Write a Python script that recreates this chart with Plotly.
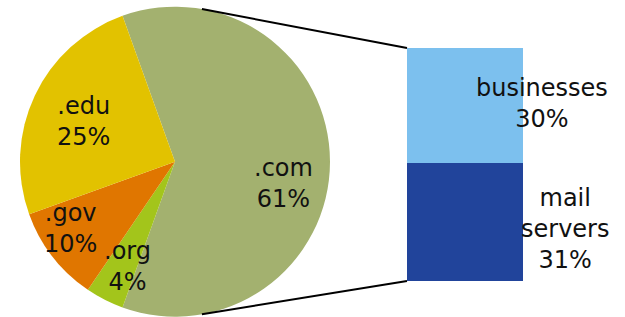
import math
import plotly.graph_objects as go

# ---- data ----
pie_labels = [".com", ".org", ".gov", ".edu"]
pie_values = [61, 4, 10, 25]
pie_colors = ["#A3B16F", "#A3C51B", "#E07600", "#E2C200"]

bar_labels = ["mail servers", "businesses"]
bar_values = [31, 30]
bar_colors = ["#21449B", "#7CC0EE"]
bar_category = ["other"]

W, H = 625, 317
FONT = "DejaVu Sans"
FS = 24

# ---- layout geometry ----
pie_dom_x = [0.032, 0.528]
pie_dom_y = [0.0, 0.98]
bar_dom_x = [407 / W, 523 / W]
bar_dom_y = [(H - 281) / H, (H - 48) / H]

total = sum(pie_values)
rot = 90 - pie_values[0] / total * 360 / 2  # center .com on the right side

fig = go.Figure()
fig.add_trace(go.Pie(
    labels=pie_labels, values=pie_values, sort=False, direction="clockwise",
    rotation=rot, marker=dict(colors=pie_colors, line=dict(width=0)),
    textinfo="none", hoverinfo="label+percent", showlegend=False,
    domain=dict(x=pie_dom_x, y=pie_dom_y),
))

for lab, val, col in zip(bar_labels, bar_values, bar_colors):
    fig.add_trace(go.Bar(
        x=bar_category, y=[val], name=lab, marker=dict(color=col, line=dict(width=0)),
        showlegend=False, xaxis="x", yaxis="y",
    ))

# ---- pie labels ----
pie_label_pos = {".com": (283, 183), ".edu": (83, 121), ".gov": (70, 228), ".org": (127, 266)}
ann = []
for lab, val in zip(pie_labels, pie_values):
    px, py = pie_label_pos[lab]
    ann.append(dict(text=f"{lab}<br>{round(val / total * 100)}%", x=px / W, y=1 - py / H,
                    xref="paper", yref="paper", showarrow=False, xanchor="center", yanchor="middle",
                    font=dict(family=FONT, size=FS, color="#111111")))

# ---- bar labels ----
bar_label_dx = {"mail servers": 100, "businesses": 77}
bar_label_dy = {"mail servers": -7, "businesses": 2}
bar_text = {"mail servers": "mail<br>servers", "businesses": "businesses"}
cum = 0
for lab, val in zip(bar_labels, bar_values):
    mid = cum + val / 2
    cum += val
    ann.append(dict(text=f"{bar_text[lab]}<br>{val}%",
                    x=0, y=mid, xref="x", yref="y", xshift=bar_label_dx[lab], yshift=bar_label_dy[lab],
                    showarrow=False, xanchor="center", yanchor="middle",
                    font=dict(family=FONT, size=FS, color="#111111")))

# ---- connector lines from pie edge to bar corners ----
cx = (pie_dom_x[0] + pie_dom_x[1]) / 2 * W
cy_b = (pie_dom_y[0] + pie_dom_y[1]) / 2 * H
R = min((pie_dom_x[1] - pie_dom_x[0]) * W, (pie_dom_y[1] - pie_dom_y[0]) * H) / 2
phi = math.radians(10)
shapes = []
for sgn, by in [(1, bar_dom_y[1]), (-1, bar_dom_y[0])]:
    x0 = (cx + R * math.sin(phi)) / W
    y0 = (cy_b + sgn * R * math.cos(phi)) / H
    shapes.append(dict(type="line", xref="paper", yref="paper", x0=x0, y0=y0, x1=bar_dom_x[0], y1=by,
                       line=dict(color="black", width=2)))

fig.update_layout(
    width=W, height=H, margin=dict(l=0, r=0, t=0, b=0),
    paper_bgcolor="white", plot_bgcolor="rgba(0,0,0,0)",
    barmode="stack", bargap=0,
    xaxis=dict(domain=bar_dom_x, range=[-0.5, 0.5], visible=False, fixedrange=True),
    yaxis=dict(domain=bar_dom_y, range=[0, sum(bar_values)], visible=False, fixedrange=True),
    annotations=ann, shapes=shapes,
)

fig.write_html("out.html", config={"displayModeBar": False},
               post_script="document.body.style.margin='0';document.body.style.overflow='hidden';")
